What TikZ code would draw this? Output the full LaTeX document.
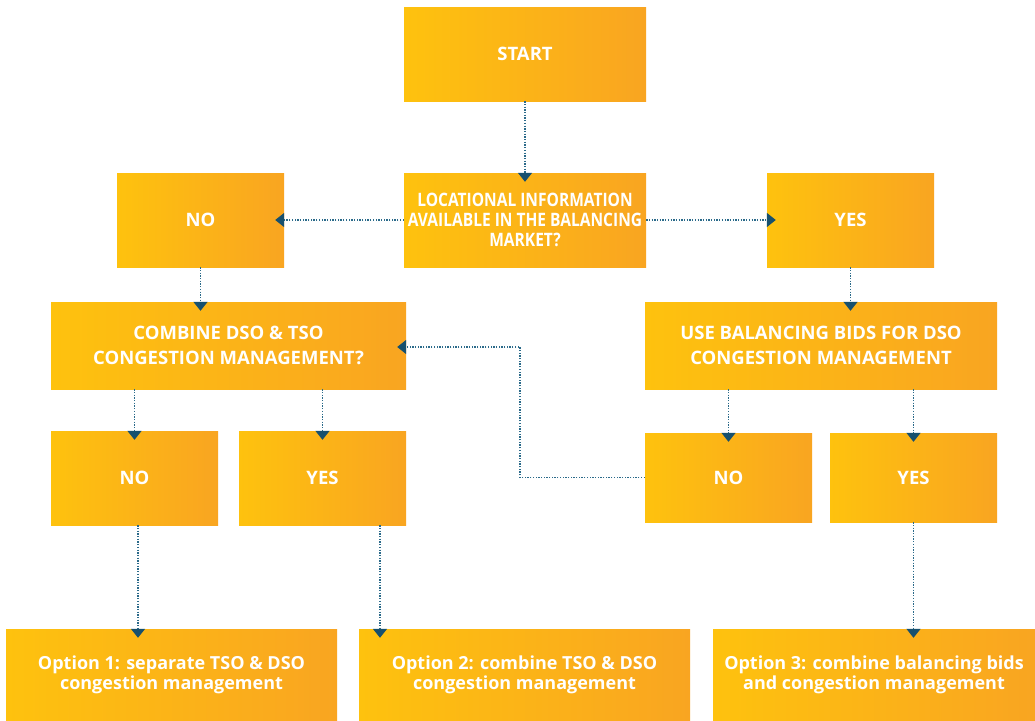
\documentclass[tikz,border=0pt]{standalone}
\usepackage{fontspec}
\setmainfont{Open Sans}
\newfontfamily\capsfont{Open Sans}
\newfontfamily\locfont{Open Sans}[FakeStretch=0.84]
\newfontfamily\optfont{Open Sans}
\usetikzlibrary{arrows.meta,shadings}
\definecolor{boxL}{HTML}{FEC20E}
\definecolor{boxR}{HTML}{F9A521}
\definecolor{linec}{HTML}{2B6A8A}
\definecolor{tipc}{HTML}{17506E}
\tikzset{
  box/.style={rectangle, inner sep=0pt, left color=boxL, right color=boxR, draw=none,
    text=white, align=center, font=\capsfont\fontsize{18.5}{25}\selectfont\bfseries},
  locbox/.style={box, font=\locfont\fontsize{18.5}{20}\selectfont\bfseries},
  optbox/.style={box, font=\optfont\fontsize{18}{20}\selectfont\bfseries},
  conn/.style={draw=linec, line width=1.3pt, dash pattern=on 1.3pt off 1.4pt,
    -{Triangle[width=14pt,length=9pt,fill=tipc,color=tipc]}, shorten >=-9pt}
}
\begin{document}
\begin{tikzpicture}[x=1pt,y=-1pt]
\useasboundingbox[fill=white] (0,0) rectangle (1035,720);
% boxes
\node[box, minimum width=242, minimum height=94] (start) at (525,54) {START};
\node[locbox, minimum width=242, minimum height=94] (loc) at (525,220) {LOCATIONAL INFORMATION\\AVAILABLE IN THE BALANCING\\MARKET?};
\node[box, minimum width=167, minimum height=94] (noA) at (200.5,220) {NO};
\node[box, minimum width=167, minimum height=94] (yesA) at (850.5,220) {YES};
\node[box, minimum width=355, minimum height=87] (comb) at (228.5,345.5) {COMBINE DSO \& TSO\\CONGESTION MANAGEMENT?};
\node[box, minimum width=352, minimum height=87] (use) at (821,345.5) {USE BALANCING BIDS FOR DSO\\CONGESTION MANAGEMENT};
\node[box, minimum width=167, minimum height=94] (noB) at (134.5,478) {NO};
\node[box, minimum width=167, minimum height=94] (yesB) at (322.5,478) {YES};
\node[box, minimum width=167, minimum height=89] (noC) at (728.5,477.5) {NO};
\node[box, minimum width=167, minimum height=89] (yesC) at (913.5,477.5) {YES};
\node[optbox, minimum width=331, minimum height=91] (opt1) at (171.5,674.5) {Option 1: separate TSO \& DSO\\congestion management};
\node[optbox, minimum width=331, minimum height=91] (opt2) at (524.5,674.5) {Option 2: combine TSO \& DSO\\congestion management};
\node[optbox, minimum width=322, minimum height=91] (opt3) at (874,674.5) {Option 3: combine balancing bids\\and congestion management};
% connectors
\draw[conn] (start.south) -- (loc.north);
\draw[conn] (loc.west) -- (noA.east);
\draw[conn] (loc.east) -- (yesA.west);
\draw[conn] (noA.south) -- (noA.south |- comb.north);
\draw[conn] (yesA.south) -- (yesA.south |- use.north);
\draw[conn] (noB.north |- comb.south) -- (noB.north);
\draw[conn] (yesB.north |- comb.south) -- (yesB.north);
\draw[conn] (noC.north |- use.south) -- (noC.north);
\draw[conn] (yesC.north |- use.south) -- (yesC.north);
\coordinate (bend) at (520,347);
\draw[conn] (noC.west) -| (bend) -- (comb.east |- bend);
\coordinate (s1) at ([xshift=3.5pt]noB.south);
\draw[conn] (s1) -- (s1 |- opt1.north);
\coordinate (s2) at ([xshift=57.5pt]yesB.south);
\draw[conn] (s2) -- (s2 |- opt2.north);
\draw[conn] (yesC.south) -- (yesC.south |- opt3.north);
\end{tikzpicture}
\end{document}
